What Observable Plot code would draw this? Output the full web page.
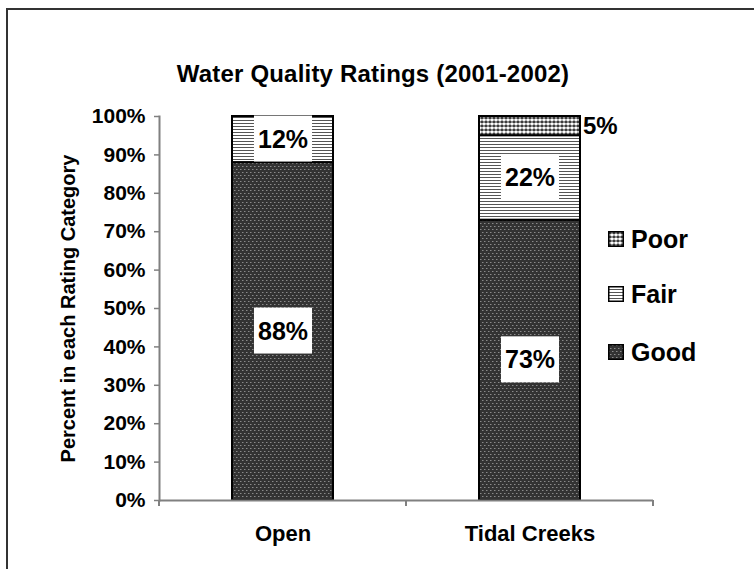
<!DOCTYPE html>
<html>
<head>
<meta charset="utf-8">
<script src="https://cdn.jsdelivr.net/npm/d3@7"></script>
<script src="https://cdn.jsdelivr.net/npm/@observablehq/plot@0.6"></script>
<style>
  html, body { margin: 0; padding: 0; background: #fff; overflow: hidden; }
  #wrap { position: relative; width: 754px; height: 569px; font-family: "Liberation Sans", Arial, sans-serif; font-weight: bold; color: #000; }
  #frame { position: absolute; left: 6px; top: 8px; width: 760px; height: 580px; border: 2px solid #333; box-sizing: border-box; pointer-events: none; }
  #title { position: absolute; left: 0; top: 60px; width: 746px; text-align: center; font-size: 24px; letter-spacing: 0.2px; }
  #legend { position: absolute; left: 608px; top: 0; }
  .item { position: absolute; left: 0; display: flex; align-items: center; font-size: 25px; white-space: nowrap; }
  .item svg { margin-right: 7px; }
  #chart { position: absolute; left: 0; top: 0; }
</style>
</head>
<body>
<div id="wrap">
  <div id="chart"></div>
  <div id="title">Water Quality Ratings (2001-2002)</div>
  <div id="legend"></div>
  <div id="frame"></div>
</div>
<script>
const sites = ["Open", "Tidal Creeks"];
const ratings = ["Good", "Fair", "Poor"];
const openValues = [88, 12, 0];
const tidalValues = [73, 22, 5];
const yTicks = [0, 10, 20, 30, 40, 50, 60, 70, 80, 90, 100];
const legendOrder = ["Poor", "Fair", "Good"];
const patternIds = ["pat-good", "pat-fair", "pat-poor"];

const seriesBySite = [openValues, tidalValues];
const rows = sites.flatMap((s, i) => ratings.map((r, j) => ({site: s, rating: r, value: seriesBySite[i][j]})))
  .filter(d => d.value > 0);

const NS = "http://www.w3.org/2000/svg";
function el(name, attrs, parent) {
  const e = document.createElementNS(NS, name);
  for (const k in attrs) e.setAttribute(k, attrs[k]);
  if (parent) parent.appendChild(e);
  return e;
}

const plot = Plot.plot({
  width: 754,
  height: 569,
  marginLeft: 159,
  marginRight: 101,
  marginTop: 116,
  marginBottom: 69,
  style: {fontFamily: "'Liberation Sans', Arial, sans-serif", fontWeight: "bold", color: "#000", background: "transparent", overflow: "visible"},
  x: {domain: sites, paddingInner: 0.59, paddingOuter: 0.295},
  y: {domain: [0, 100]},
  color: {domain: ratings, range: patternIds.map(id => `url(#${id})`)},
  marks: [
    Plot.axisY({ticks: yTicks, tickFormat: d => d + "%", tickSize: 5, tickPadding: 9, fontSize: 21, stroke: "#808080", strokeWidth: 1.5, label: null}),
    Plot.axisY({ticks: [], tickSize: 0, fontSize: 20, label: "Percent in each Rating Category", labelArrow: "none", labelAnchor: "center", labelOffset: 99, className: "ylabel"}),
    Plot.axisX({tickSize: 0, tickPadding: 25, fontSize: 22, label: null}),
    Plot.barY(rows, Plot.stackY({x: "site", y: "value", fill: "rating", stroke: "#000", strokeWidth: 2})),
    Plot.frame({anchor: "left", stroke: "#808080", strokeWidth: 2}),
    Plot.ruleY([0], {stroke: "#808080", strokeWidth: 2}),
    Plot.text(rows, Plot.stackY({x: "site", y: "value", z: "rating", text: d => d.rating !== "Poor" ? d.value + "%" : null, fontSize: 25, fill: "#000", className: "inlabel"})),
    Plot.text(rows, Plot.stackY({x: "site", y: "value", z: "rating", text: d => d.rating === "Poor" ? d.value + "%" : null, fontSize: 24, fill: "#000", dx: 53, textAnchor: "start"}))
  ]
});

document.getElementById("chart").appendChild(plot);

// strip any label arrow
plot.querySelectorAll("text").forEach(t => {
  if (/[↑→←↓]/.test(t.textContent)) t.textContent = t.textContent.replace(/\s*[↑→←↓]\s*/g, "").trim();
});

// patterns
const defs = el("defs", {}, plot);
{
  const p = el("pattern", {id: "pat-good", width: 4, height: 6, patternUnits: "userSpaceOnUse"}, defs);
  el("rect", {width: 4, height: 6, fill: "#333"}, p);
  el("rect", {x: 0, y: 1, width: 1.5, height: 1, fill: "#8a8a8a"}, p);
  el("rect", {x: 2, y: 4, width: 1.5, height: 1, fill: "#8a8a8a"}, p);
}
{
  const p = el("pattern", {id: "pat-fair", width: 6, height: 3, patternUnits: "userSpaceOnUse"}, defs);
  el("rect", {width: 6, height: 3, fill: "#fff"}, p);
  el("rect", {x: 0, y: 0, width: 6, height: 1, fill: "#555"}, p);
}
{
  const p = el("pattern", {id: "pat-poor", width: 4, height: 4, patternUnits: "userSpaceOnUse"}, defs);
  el("rect", {width: 4, height: 4, fill: "#fff"}, p);
  el("circle", {cx: 2, cy: 2, r: 1.4, fill: "#222"}, p);
  el("rect", {x: 0, y: 1.5, width: 4, height: 1, fill: "#555"}, p);
}

// white boxes behind inner labels
plot.querySelectorAll("g.inlabel text").forEach(t => {
  const b = t.getBBox();
  if (b.width <= 0) return;
  const cy = b.y + b.height / 2;
  const r = el("rect", {x: b.x - 4, y: cy - 23, width: b.width + 8, height: 46, fill: "#fff"});
  const tr = t.getAttribute("transform");
  if (tr) r.setAttribute("transform", tr);
  t.parentNode.insertBefore(r, t);
});

// band boundary ticks on the x axis
const xs = plot.scale("x");
const ys = plot.scale("y");
const y0 = ys.apply(0);
const gap = (xs.step - xs.bandwidth) / 2;
const bounds = sites.map(s => xs.apply(s) - gap).concat([xs.apply(sites[sites.length - 1]) + xs.bandwidth + gap]);
const tg = el("g", {stroke: "#808080", "stroke-width": 2}, plot);
bounds.forEach(bx => el("line", {x1: bx, x2: bx, y1: y0, y2: y0 + 6}, tg));

// legend
const legend = document.getElementById("legend");
const legendY = [239, 294, 352];
legendOrder.forEach((r, i) => {
  const item = document.createElement("div");
  item.className = "item";
  item.style.top = (legendY[i] - 14) + "px";
  item.style.height = "28px";
  const sw = document.createElementNS(NS, "svg");
  sw.setAttribute("width", 16); sw.setAttribute("height", 16);
  el("rect", {x: 0.75, y: 0.75, width: 14.5, height: 14.5, fill: `url(#${patternIds[ratings.indexOf(r)]})`, stroke: "#000", "stroke-width": 1.5}, sw);
  item.appendChild(sw);
  const span = document.createElement("span");
  span.textContent = r;
  item.appendChild(span);
  legend.appendChild(item);
});
</script>
</body>
</html>
